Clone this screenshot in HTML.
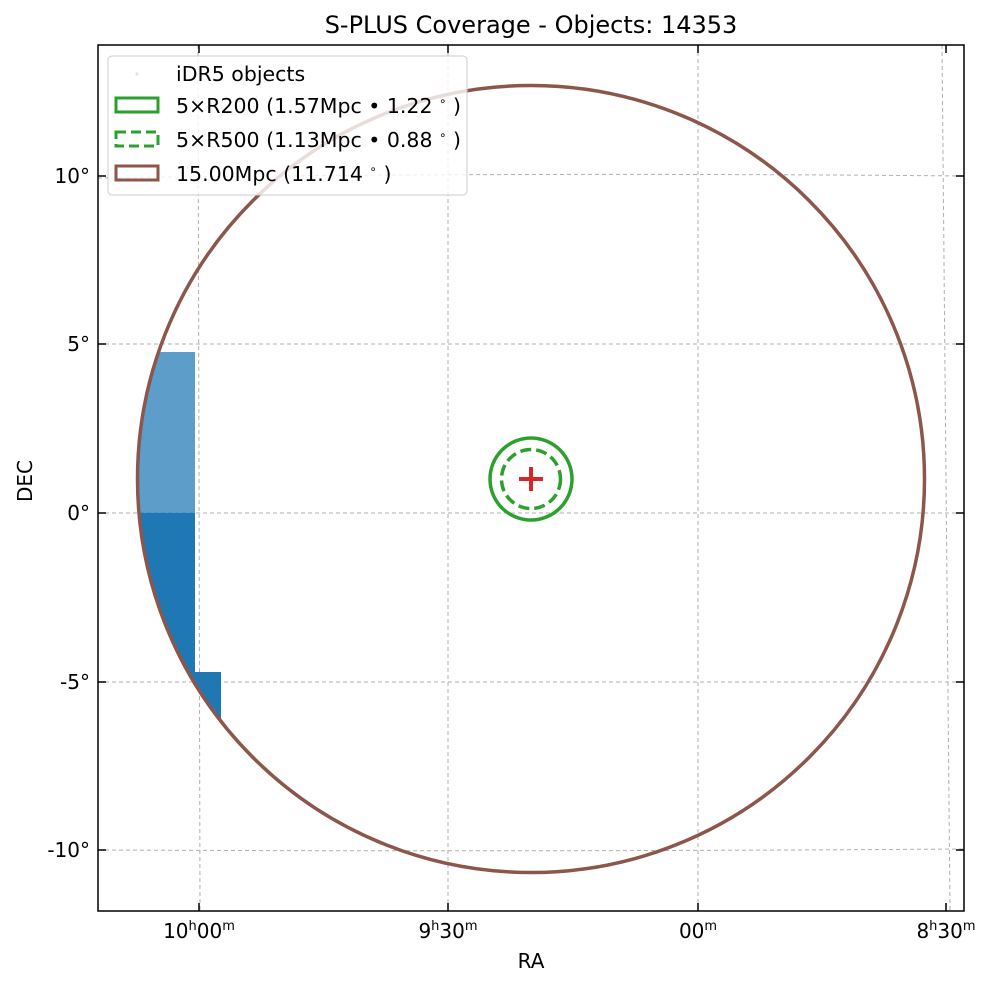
<!DOCTYPE html>
<html><head><meta charset="utf-8"><style>
body{margin:0;background:#fff}
svg{display:block;font-family:"DejaVu Sans","Liberation Sans",sans-serif}
</style></head><body>
<svg width="993" height="986" viewBox="0 0 993 986" xmlns="http://www.w3.org/2000/svg">
<defs>
<clipPath id="c"><circle cx="531" cy="479" r="393.5"/></clipPath>
<clipPath id="ax"><rect x="98" y="45" width="866" height="866"/></clipPath>
</defs>
<text x="531" y="33" font-size="24" text-anchor="middle">S-PLUS Coverage - Objects: 14353</text>
<g clip-path="url(#ax)" stroke="#b0b0b0" stroke-width="1" stroke-dasharray="4,3" fill="none">
<path d="M198,45 Q199,478 200,911"/>
<path d="M448,45 L448,911"/>
<path d="M698,45 L698,911"/>
<path d="M942,45 Q946,478 950,911"/>
<path d="M98,178 Q531,172 964,176"/>
<path d="M98,344 L964,344"/>
<path d="M98,513 L964,513"/>
<path d="M98,682 L964,682"/>
<path d="M98,850 Q531,852 964,849"/>
</g>
<g clip-path="url(#c)">
<rect x="137" y="352" width="58" height="161" fill="#1f77b4" opacity="0.72"/>
<rect x="137" y="513" width="58" height="170" fill="#1f77b4"/>
<rect x="194" y="672" width="27" height="50" fill="#1f77b4"/>
</g>
<circle cx="531" cy="479" r="393.5" fill="none" stroke="#8c564b" stroke-width="3.5"/>
<circle cx="531" cy="479" r="41" fill="none" stroke="#2ca02c" stroke-width="3.5"/>
<circle cx="531" cy="479" r="29.5" fill="none" stroke="#2ca02c" stroke-width="3.5" stroke-dasharray="11,5"/>
<path d="M519,479H543M531,467V491" stroke="#d62728" stroke-width="4"/>
<rect x="98" y="45" width="866" height="866" fill="none" stroke="#000" stroke-width="1.5"/>
<g stroke="#000" stroke-width="1.5">
<path d="M199,911v-8M448,911v-8M698,911v-8M946,911v-8M199,45v8M448,45v8M698,45v8M946,45v8"/>
<path d="M98,176h8M98,344h8M98,513h8M98,682h8M98,850h8M964,176h-8M964,344h-8M964,513h-8M964,682h-8M964,850h-8"/>
</g>
<g font-size="20" text-anchor="end">
<text x="90" y="183">10°</text><text x="90" y="351">5°</text><text x="90" y="520">0°</text>
<text x="90" y="689">-5°</text><text x="90" y="857">-10°</text>
</g>
<g font-size="20" text-anchor="middle">
<text x="199" y="938">10<tspan font-size="13" dy="-8">h</tspan><tspan dy="8">00</tspan><tspan font-size="13" dy="-8">m</tspan></text>
<text x="448" y="938">9<tspan font-size="13" dy="-8">h</tspan><tspan dy="8">30</tspan><tspan font-size="13" dy="-8">m</tspan></text>
<text x="698" y="938">00<tspan font-size="13" dy="-8">m</tspan></text>
<text x="946" y="938">8<tspan font-size="13" dy="-8">h</tspan><tspan dy="8">30</tspan><tspan font-size="13" dy="-8">m</tspan></text>
<text x="531" y="968">RA</text>
</g>
<text transform="translate(32,481) rotate(-90)" font-size="20" text-anchor="middle">DEC</text>
<rect x="108" y="56" width="359" height="139" rx="4" fill="#fff" fill-opacity="0.8" stroke="#ccc"/>
<circle cx="137" cy="74" r="1.5" fill="#1f77b4" opacity="0.2"/>
<rect x="116" y="98" width="42" height="14" fill="none" stroke="#2ca02c" stroke-width="3"/>
<rect x="116" y="132" width="42" height="14" fill="none" stroke="#2ca02c" stroke-width="3" stroke-dasharray="10,5"/>
<rect x="116" y="166" width="42" height="14" fill="none" stroke="#8c564b" stroke-width="3"/>
<g font-size="20.5">
<text x="176" y="81">iDR5 objects</text>
<text x="176" y="113">5×R200 (1.57Mpc • 1.22 <tspan font-size="12" dy="-8">∘</tspan><tspan dy="8"> )</tspan></text>
<text x="176" y="147">5×R500 (1.13Mpc • 0.88 <tspan font-size="12" dy="-8">∘</tspan><tspan dy="8"> )</tspan></text>
<text x="176" y="181">15.00Mpc (11.714 <tspan font-size="12" dy="-8">∘</tspan><tspan dy="8"> )</tspan></text>
</g>
</svg>
</body></html>
